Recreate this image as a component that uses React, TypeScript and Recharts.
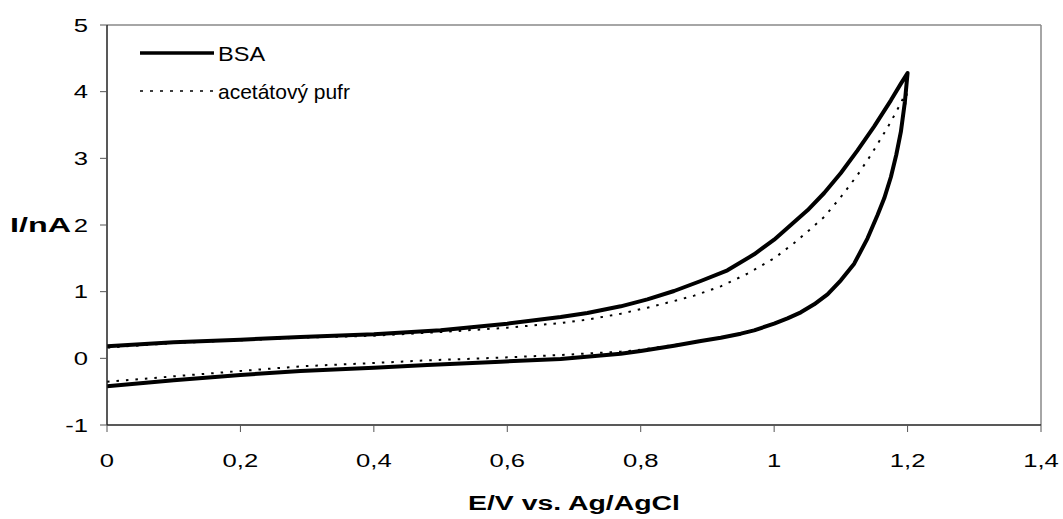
import React from 'react';
import { LineChart, Line, XAxis, YAxis, ReferenceLine } from 'recharts';

// BSA: anodic (lower) branch 0 -> 1.2 V, then cathodic (upper) branch 1.2 -> 0 V
const bsaLowE = [0.0, 0.1, 0.2, 0.29, 0.4, 0.48, 0.59, 0.68, 0.77, 0.8, 0.85, 0.89, 0.92, 0.95, 0.97, 1.0, 1.02, 1.04, 1.06, 1.08, 1.1, 1.12, 1.14, 1.155, 1.165, 1.175, 1.183, 1.19, 1.196, 1.2];
const bsaLowI = [-0.42, -0.33, -0.25, -0.19, -0.14, -0.1, -0.05, -0.01, 0.07, 0.11, 0.19, 0.26, 0.31, 0.37, 0.42, 0.52, 0.6, 0.69, 0.81, 0.96, 1.17, 1.42, 1.8, 2.15, 2.4, 2.72, 3.05, 3.4, 3.85, 4.28];
const bsaUpE = [1.19, 1.175, 1.15, 1.125, 1.1, 1.075, 1.05, 1.025, 1.0, 0.97, 0.93, 0.89, 0.85, 0.81, 0.77, 0.72, 0.68, 0.6, 0.5, 0.4, 0.29, 0.2, 0.1, 0.0];
const bsaUpI = [4.12, 3.87, 3.48, 3.12, 2.78, 2.48, 2.22, 2.0, 1.78, 1.56, 1.32, 1.16, 1.01, 0.885, 0.78, 0.68, 0.62, 0.52, 0.42, 0.36, 0.32, 0.28, 0.24, 0.18];

// Acetate buffer
const bufLowE = [0.0, 0.1, 0.2, 0.29, 0.4, 0.48, 0.59, 0.68, 0.77, 0.8, 0.85, 0.89, 0.92, 0.95, 0.97, 1.0, 1.02, 1.04, 1.06, 1.08, 1.1, 1.12, 1.14, 1.155, 1.165, 1.175, 1.183, 1.19, 1.196, 1.2];
const bufLowI = [-0.35, -0.27, -0.19, -0.12, -0.07, -0.03, 0.01, 0.05, 0.1, 0.13, 0.2, 0.26, 0.31, 0.37, 0.42, 0.52, 0.6, 0.69, 0.81, 0.96, 1.17, 1.42, 1.8, 2.15, 2.4, 2.72, 3.05, 3.4, 3.78, 4.05];
const bufUpE = [1.19, 1.175, 1.165, 1.145, 1.125, 1.1, 1.075, 1.05, 1.03, 1.0, 0.96, 0.92, 0.88, 0.85, 0.81, 0.77, 0.72, 0.68, 0.6, 0.51, 0.4, 0.29, 0.2, 0.1, 0.0];
const bufUpI = [3.83, 3.55, 3.38, 3.05, 2.75, 2.42, 2.12, 1.9, 1.73, 1.5, 1.27, 1.08, 0.94, 0.86, 0.76, 0.67, 0.58, 0.53, 0.46, 0.4, 0.34, 0.31, 0.27, 0.23, 0.16];

const xTicks = [0, 0.2, 0.4, 0.6, 0.8, 1.0, 1.2, 1.4];
const yTicks = [-1, 0, 1, 2, 3, 4, 5];
const seriesNames = ['BSA', 'acetátový pufr'];
const xTitle = 'E/V vs. Ag/AgCl';
const yTitle = 'I/nA';

const toRows = (es: number[], is: number[]) => es.map((e, k) => ({ e, i: is[k] }));
const bsaData = [...toRows(bsaLowE, bsaLowI), ...toRows(bsaUpE, bsaUpI)];
const bufData = [...toRows(bufLowE, bufLowI), ...toRows(bufUpE, bufUpI)];

const FONT = '"Liberation Sans", Arial, sans-serif';
const TICK_FS = 19;
const STRETCH = 1.35;

const fmtX = (v: number) => String(Math.round(v * 10) / 10).replace('.', ',');

const XTick = (props: any) => {
  const { x, y, payload } = props;
  return (
    <g transform={`translate(${x},${y})`}>
      <text transform={`scale(${STRETCH},1)`} x={0} y={0} dy="0.71em" textAnchor="middle" fontSize={TICK_FS} fontFamily={FONT} fill="#000">
        {fmtX(payload.value)}
      </text>
    </g>
  );
};

const YTick = (props: any) => {
  const { x, y, payload } = props;
  return (
    <g transform={`translate(${x},${y})`}>
      <text transform={`scale(${STRETCH},1)`} x={0} y={0} dy="0.355em" textAnchor="end" fontSize={TICK_FS} fontFamily={FONT} fill="#000">
        {String(payload.value)}
      </text>
    </g>
  );
};

const XTitle = (props: any) => {
  const vb = props.viewBox || {};
  const cx = vb.x + vb.width / 2;
  return (
    <text x={cx} y={510} textAnchor="middle" fontSize={20} fontWeight="bold" fontFamily={FONT} fill="#000"
      textLength={212} lengthAdjust="spacingAndGlyphs">
      {xTitle}
    </text>
  );
};

const YTitle = (props: any) => {
  const vb = props.viewBox || {};
  const cy = vb.y + vb.height / 2;
  return (
    <text x={10} y={cy} dy="0.355em" textAnchor="start" fontSize={20} fontWeight="bold" fontFamily={FONT} fill="#000"
      textLength={61} lengthAdjust="spacingAndGlyphs">
      {yTitle}
    </text>
  );
};

export default function App() {
  return (
    <div style={{ position: 'absolute', left: 0, top: 0, width: 1063, height: 519, fontFamily: FONT, background: '#fff' }}>
      <LineChart width={1063} height={519} margin={{ top: 25, right: 22, bottom: 0, left: 0 }}>
        <XAxis
          type="number"
          dataKey="e"
          domain={[0, 1.4]}
          ticks={xTicks}
          height={94}
          tickSize={7}
          tickMargin={22}
          axisLine={{ stroke: '#222', strokeWidth: 1.5 }}
          tickLine={{ stroke: '#555' }}
          tick={<XTick />}
          label={<XTitle />}
          allowDataOverflow
        />
        <YAxis
          type="number"
          dataKey="i"
          domain={[-1, 5]}
          ticks={yTicks}
          width={107}
          tickSize={7}
          tickMargin={12}
          axisLine={{ stroke: '#222', strokeWidth: 1.5 }}
          tickLine={{ stroke: '#555' }}
          tick={<YTick />}
          label={<YTitle />}
          allowDataOverflow
        />
        <ReferenceLine y={5} stroke="#888" strokeWidth={1.5} />
        <ReferenceLine x={1.4} stroke="#888" strokeWidth={1.5} />
        <Line data={bufData} dataKey="i" name={seriesNames[1]} type="linear" stroke="#000" strokeWidth={2} strokeDasharray="2.5 7"
          dot={false} isAnimationActive={false} />
        <Line data={bsaData} dataKey="i" name={seriesNames[0]} type="linear" stroke="#000" strokeWidth={4} strokeLinejoin="round"
          dot={false} isAnimationActive={false} />
      </LineChart>
      <div style={{ position: 'absolute', left: 140, top: 34, fontFamily: FONT, fontSize: 21, color: '#000', lineHeight: 1 }}>
        <div style={{ display: 'flex', alignItems: 'center', height: 38 }}>
          <svg width={75} height={10} style={{ display: 'block' }}>
            <line x1={0} y1={5} x2={74} y2={5} stroke="#000" strokeWidth={3.5} />
          </svg>
          <span style={{ marginLeft: 3, display: 'inline-block', transform: 'scaleX(1.12)', transformOrigin: 'left center' }}>{seriesNames[0]}</span>
        </div>
        <div style={{ display: 'flex', alignItems: 'center', height: 38 }}>
          <svg width={75} height={10} style={{ display: 'block' }}>
            <line x1={0} y1={5} x2={74} y2={5} stroke="#000" strokeWidth={1.5} strokeDasharray="3 7" />
          </svg>
          <span style={{ marginLeft: 3 }}>{seriesNames[1]}</span>
        </div>
      </div>
    </div>
  );
}
